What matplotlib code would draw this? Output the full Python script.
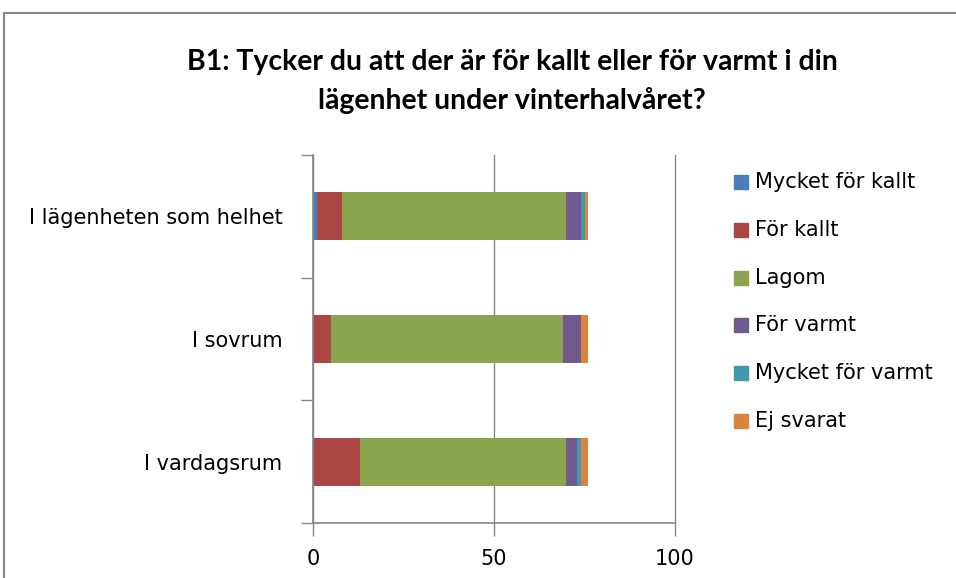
import matplotlib.pyplot as plt
from matplotlib.patches import Rectangle
from matplotlib.lines import Line2D

categories = ["I lägenheten som helhet", "I sovrum", "I vardagsrum"]
series_names = ["Mycket för kallt", "För kallt", "Lagom", "För varmt",
                "Mycket för varmt", "Ej svarat"]
mycket_kallt = [1, 0, 0]
for_kallt = [7, 5, 13]
lagom = [62, 64, 57]
for_varmt = [4, 5, 3]
mycket_varmt = [1, 0, 1]
ej_svarat = [1, 2, 2]
xticks = [0, 50, 100]

colors = ["#4A7EBB", "#AA4644", "#8BA54E", "#71588F", "#4198AF", "#DB843D"]
series = [mycket_kallt, for_kallt, lagom, for_varmt, mycket_varmt, ej_svarat]
axis_grey = '#868686'

plt.rcParams['font.family'] = ['DejaVu Sans']

fig = plt.figure(figsize=(9.56, 5.78), dpi=100)
ax = fig.add_axes([313 / 956, 1 - 523 / 578, 362 / 956, 368 / 578])

ypos = list(range(len(categories)))
left = [0] * len(categories)
for name, vals, c in zip(series_names, series, colors):
    ax.barh(ypos, vals, left=left, height=0.39, color=c, label=name, zorder=3)
    left = [l + v for l, v in zip(left, vals)]

ax.set_ylim(2.5, -0.5)
ax.set_xlim(0, 100)
ax.set_xticks(xticks)
ax.set_xticklabels([str(t) for t in xticks], fontsize=15)
ax.set_yticks(ypos)
ax.set_yticklabels(categories, fontsize=15)
ax.tick_params(axis='y', length=0, pad=22)
ax.tick_params(axis='x', length=9, color=axis_grey, width=1, pad=10)
ax.set_yticks([-0.5, 0.5, 1.5, 2.5], minor=True)
ax.tick_params(axis='y', which='minor', length=9, color=axis_grey, width=1)

ax.grid(axis='x', color=axis_grey, linewidth=1, zorder=0)
for gl in ax.get_xgridlines():
    gl.set_clip_on(False)
for side in ['top', 'right']:
    ax.spines[side].set_visible(False)
for side in ['left', 'bottom']:
    ax.spines[side].set_color(axis_grey)
    ax.spines[side].set_linewidth(1.2)
    ax.spines[side].set_zorder(4)

title_kw = dict(ha='center', va='center', fontsize=20.4, fontweight='bold',
                family=['Lato', 'DejaVu Sans'])
fig.text(512 / 956, 1 - 62 / 578,
         "B1: Tycker du att der är för kallt eller för varmt i din", **title_kw)
fig.text(512 / 956, 1 - 100 / 578, "lägenhet under vinterhalvåret?", **title_kw)

# legend drawn entry by entry
for i, (name, c) in enumerate(zip(series_names, colors)):
    y = 1 - (182 + i * 47.8) / 578
    fig.patches.append(Rectangle((734 / 956, y - 7 / 578), 14 / 956, 14 / 578,
                                 transform=fig.transFigure, color=c))
    fig.text(755 / 956, y, name, ha='left', va='center', fontsize=15)

# outer chart border
fig.add_artist(Line2D([4 / 956, 4 / 956], [0, 1 - 13 / 578],
                      transform=fig.transFigure, color=axis_grey, linewidth=1.5))
fig.add_artist(Line2D([4 / 956, 1], [1 - 13 / 578, 1 - 13 / 578],
                      transform=fig.transFigure, color=axis_grey, linewidth=1.5))

fig.savefig("out.png", dpi=100)
